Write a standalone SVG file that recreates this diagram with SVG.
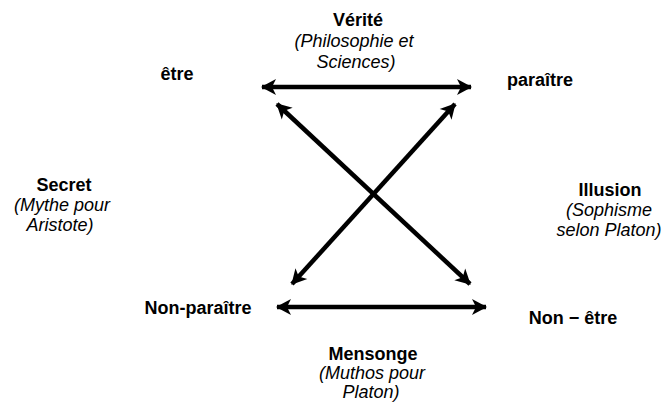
<svg xmlns="http://www.w3.org/2000/svg" width="663" height="405" viewBox="0 0 663 405">
<style>
text{font-family:"Liberation Sans",Arial,sans-serif;font-size:18px;fill:#000;text-anchor:middle}
.b{font-weight:bold}
.i{font-style:italic}
.c{stroke:#000;stroke-width:4.5;fill:none;marker-start:url(#ah);marker-end:url(#ah)}
</style>
<defs>
<marker id="ah" markerUnits="userSpaceOnUse" viewBox="-16 -9 18 18" refX="0" refY="0" markerWidth="18" markerHeight="18" orient="auto-start-reverse">
<path d="M1,0 L-14,-8 L-10,0 L-14,8 Z" fill="#000"/>
</marker>
</defs>
<rect width="663" height="405" fill="#fff"/>
<g id="connectors">
<line class="c" x1="262" y1="87" x2="471" y2="87"/>
<line class="c" x1="277" y1="307" x2="486" y2="307"/>
<line class="c" x1="277" y1="104" x2="470" y2="284"/>
<line class="c" x1="455" y1="104" x2="292" y2="284"/>
</g>
<g id="verite">
<text class="b" x="358" y="26">Vérité</text>
<text class="i" x="354" y="47">(Philosophie et</text>
<text class="i" x="356" y="68">Sciences)</text>
</g>
<g id="etre"><text class="b" x="177" y="80">être</text></g>
<g id="paraitre"><text class="b" x="540" y="86">paraître</text></g>
<g id="secret">
<text class="b" x="64" y="191">Secret</text>
<text class="i" x="62" y="211">(Mythe pour</text>
<text class="i" x="60" y="231">Aristote)</text>
</g>
<g id="illusion">
<text class="b" x="610" y="196">Illusion</text>
<text class="i" x="609" y="216">(Sophisme</text>
<text class="i" x="609" y="236">selon Platon)</text>
</g>
<g id="nonparaitre"><text class="b" x="198" y="314">Non-paraître</text></g>
<g id="nonetre"><text class="b" x="573" y="324">Non − être</text></g>
<g id="mensonge">
<text class="b" x="373" y="360">Mensonge</text>
<text class="i" x="372" y="379">(Muthos pour</text>
<text class="i" x="371" y="398">Platon)</text>
</g>
</svg>
